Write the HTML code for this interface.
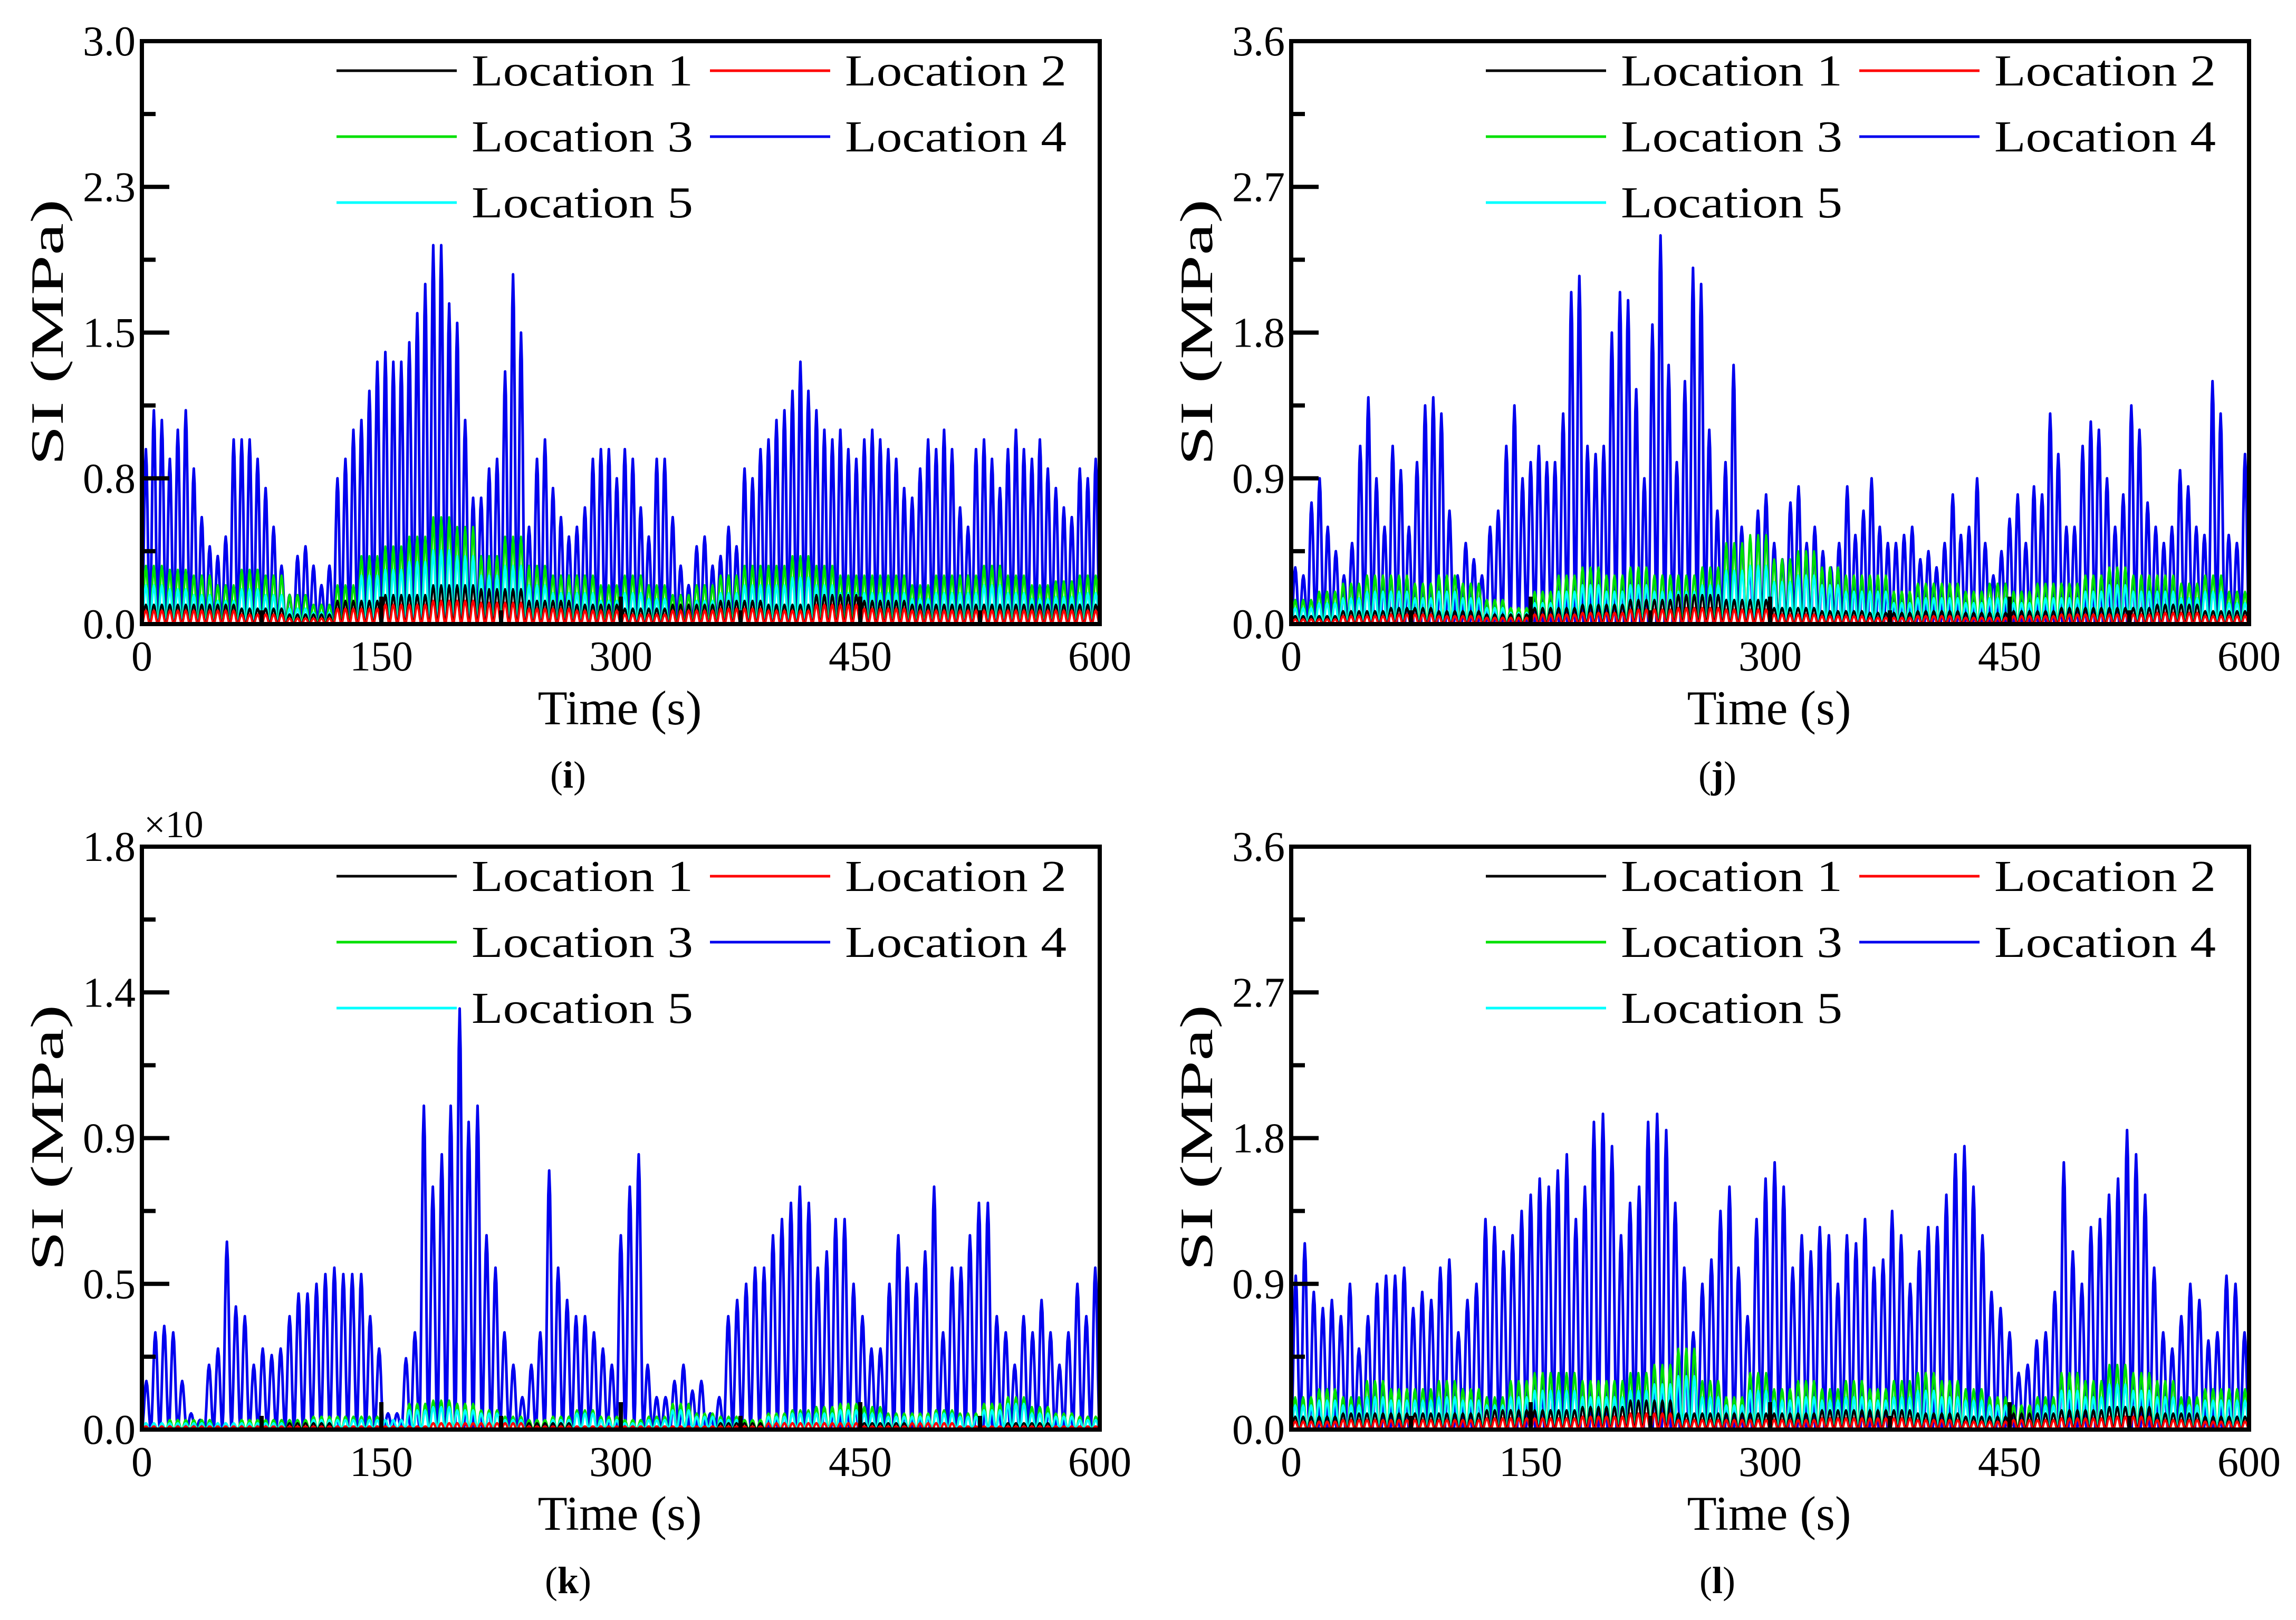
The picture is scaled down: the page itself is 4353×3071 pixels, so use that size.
<!DOCTYPE html>
<html><head><meta charset="utf-8"><style>
html,body{margin:0;padding:0;background:#fff;}
svg{display:block;font-family:"Liberation Serif",serif;}
</style></head><body>
<svg id="fig" width="4353" height="3071" viewBox="0 0 4353 3071" xmlns="http://www.w3.org/2000/svg"></svg>
<script>
// ---- data ----
const xTicks = [0,150,300,450,600];
const yTicksI = ["0.0","0.8","1.5","2.3","3.0"];
const yTicksJ = ["0.0","0.9","1.8","2.7","3.6"];
const yTicksK = ["0.0","0.5","0.9","1.4","1.8"];
const yTicksL = ["0.0","0.9","1.8","2.7","3.6"];
const yMaxI = 3.0, yMaxJ = 3.6, yMaxK = 1.8, yMaxL = 3.6;
const seriesNames = ["Location 1","Location 2","Location 3","Location 4","Location 5"];

const i_L4 = [0.9,1.1,1.05,0.85,1.0,1.1,0.8,0.55,0.4,0.35,0.45,0.95,0.95,0.95,0.85,0.7,0.5,0.3,0.15,0.35,0.4,0.3,0.2,0.3,0.75,0.85,1.0,1.05,1.2,1.35,1.4,1.35,1.35,1.45,1.6,1.75,1.95,1.95,1.65,1.55,1.05,0.65,0.65,0.8,0.85,1.3,1.8,1.5,0.5,0.85,0.95,0.7,0.55,0.45,0.5,0.6,0.85,0.9,0.9,0.75,0.9,0.85,0.6,0.45,0.85,0.85,0.55,0.3,0.2,0.4,0.45,0.3,0.35,0.5,0.4,0.8,0.75,0.9,0.95,1.05,1.1,1.2,1.35,1.2,1.1,1.0,0.95,1.0,0.9,0.85,0.95,1.0,0.95,0.9,0.85,0.7,0.65,0.8,0.95,0.9,1.0,0.9,0.6,0.5,0.9,0.95,0.85,0.7,0.9,1.0,0.9,0.85,0.95,0.8,0.7,0.6,0.55,0.8,0.75,0.85];
const i_L3 = [0.3,0.28,0.25,0.2,0.28,0.25,0.15,0.1,0.2,0.35,0.4,0.45,0.55,0.5,0.35,0.45,0.3,0.25,0.25,0.2,0.25,0.2,0.15,0.2,0.25,0.3,0.3,0.35,0.3,0.25,0.25,0.25,0.2,0.25,0.25,0.3,0.25,0.2,0.22,0.25];
const i_L5 = [0.2,0.18,0.15,0.12,0.18,0.15,0.08,0.06,0.12,0.25,0.28,0.32,0.38,0.35,0.25,0.3,0.2,0.16,0.16,0.12,0.16,0.13,0.1,0.12,0.16,0.2,0.2,0.24,0.2,0.16,0.16,0.16,0.13,0.16,0.16,0.2,0.16,0.13,0.14,0.16];
const i_L1 = [0.1,0.1,0.08,0.05,0.12,0.15,0.2,0.18,0.12,0.1,0.08,0.1,0.12,0.1,0.15,0.12,0.1,0.1,0.1,0.1];
const i_L2 = [0.07,0.07,0.05,0.03,0.08,0.1,0.12,0.11,0.08,0.07,0.05,0.07,0.08,0.07,0.1,0.08,0.07,0.07,0.07,0.07];

const j_L4 = [0.35,0.3,0.75,0.9,0.6,0.45,0.3,0.5,1.1,1.4,0.9,0.6,1.1,0.95,0.6,1.0,1.35,1.4,1.3,0.7,0.3,0.5,0.4,0.3,0.6,0.7,1.1,1.35,0.9,1.0,1.1,1.0,1.0,1.3,2.05,2.15,1.1,1.05,1.1,1.8,2.05,2.0,1.45,0.9,1.85,2.4,1.6,1.0,1.5,2.2,2.1,1.2,0.7,1.0,1.6,0.6,0.35,0.7,0.8,0.5,0.4,0.75,0.85,0.5,0.6,0.45,0.35,0.5,0.85,0.55,0.7,0.9,0.6,0.5,0.5,0.55,0.6,0.4,0.45,0.35,0.5,0.8,0.55,0.6,0.9,0.5,0.3,0.45,0.65,0.8,0.5,0.85,0.8,1.3,1.05,0.6,0.6,1.1,1.25,1.2,0.9,0.6,0.8,1.35,1.2,0.75,0.6,0.5,0.6,0.95,0.85,0.6,0.55,1.5,1.3,0.55,0.5,1.05];
const j_L3 = [0.15,0.2,0.25,0.3,0.3,0.25,0.3,0.25,0.15,0.1,0.2,0.3,0.35,0.3,0.35,0.3,0.3,0.35,0.5,0.55,0.4,0.45,0.35,0.3,0.3,0.2,0.25,0.25,0.2,0.25,0.2,0.25,0.25,0.3,0.35,0.3,0.3,0.25,0.3,0.2];
const j_L5 = [0.1,0.13,0.16,0.2,0.2,0.16,0.2,0.16,0.1,0.07,0.13,0.2,0.24,0.2,0.24,0.2,0.2,0.24,0.33,0.36,0.26,0.3,0.24,0.2,0.2,0.13,0.16,0.16,0.13,0.16,0.13,0.16,0.16,0.2,0.24,0.2,0.2,0.16,0.2,0.13];
const j_L1 = [0.05,0.08,0.1,0.08,0.06,0.1,0.12,0.15,0.18,0.15,0.1,0.08,0.07,0.08,0.07,0.08,0.1,0.1,0.12,0.08];
const j_L2 = [0.03,0.05,0.06,0.05,0.04,0.06,0.07,0.09,0.1,0.09,0.06,0.05,0.04,0.05,0.04,0.05,0.06,0.06,0.07,0.05];

const k_L4 = [0.15,0.3,0.32,0.3,0.15,0.05,0.03,0.2,0.25,0.58,0.38,0.35,0.2,0.25,0.23,0.25,0.35,0.42,0.42,0.45,0.48,0.5,0.48,0.48,0.48,0.35,0.25,0.05,0.05,0.22,0.3,1.0,0.75,0.85,1.0,1.3,0.95,1.0,0.6,0.5,0.3,0.2,0.1,0.2,0.3,0.8,0.5,0.4,0.35,0.35,0.3,0.25,0.2,0.6,0.75,0.85,0.2,0.1,0.1,0.15,0.2,0.12,0.15,0.05,0.1,0.35,0.4,0.45,0.5,0.5,0.6,0.65,0.7,0.75,0.7,0.5,0.55,0.65,0.65,0.45,0.35,0.25,0.25,0.45,0.6,0.5,0.45,0.55,0.75,0.3,0.5,0.5,0.6,0.7,0.7,0.35,0.3,0.2,0.35,0.3,0.4,0.3,0.2,0.3,0.45,0.35,0.5];
const k_L3 = [0.02,0.03,0.03,0.02,0.03,0.03,0.03,0.04,0.04,0.04,0.03,0.08,0.09,0.08,0.06,0.04,0.03,0.04,0.06,0.04,0.03,0.04,0.08,0.05,0.04,0.03,0.05,0.06,0.07,0.08,0.07,0.05,0.05,0.06,0.05,0.08,0.1,0.07,0.05,0.04];
const k_L5 = [0.02,0.02,0.02,0.02,0.02,0.02,0.02,0.03,0.03,0.03,0.03,0.06,0.07,0.06,0.05,0.03,0.02,0.03,0.05,0.03,0.02,0.03,0.06,0.04,0.03,0.02,0.04,0.05,0.05,0.06,0.05,0.04,0.04,0.05,0.04,0.06,0.08,0.05,0.04,0.03];
const k_L1 = [0.01,0.01,0.01,0.02,0.01,0.01,0.02,0.02,0.02,0.01,0.01,0.01,0.02,0.02,0.02,0.02,0.02,0.01,0.02,0.01];
const k_L2 = [0.01,0.01,0.01,0.01,0.01,0.01,0.02,0.02,0.01,0.01,0.01,0.01,0.01,0.02,0.02,0.01,0.02,0.01,0.01,0.01];

const l_L4 = [0.95,1.15,0.85,0.75,0.8,0.7,0.9,0.5,0.7,0.9,0.95,0.95,1.0,0.75,0.85,0.8,1.0,1.05,0.6,0.8,0.9,1.3,1.25,1.1,1.2,1.35,1.45,1.55,1.5,1.6,1.7,1.3,1.5,1.9,1.95,1.75,1.2,1.4,1.5,1.9,1.95,1.85,1.4,1.0,0.6,0.9,1.05,1.35,1.5,1.0,0.7,1.3,1.55,1.65,1.5,1.0,1.2,1.1,1.25,1.2,0.9,1.2,1.15,1.3,1.0,1.05,1.35,1.2,0.9,1.1,1.25,1.25,1.45,1.7,1.75,1.5,1.2,0.85,0.75,0.6,0.35,0.4,0.55,0.6,0.85,1.65,1.1,0.9,1.25,1.3,1.45,1.55,1.85,1.7,1.45,1.0,0.6,0.5,0.7,0.9,0.8,0.55,0.6,0.95,0.9,0.6];
const l_L3 = [0.2,0.25,0.2,0.3,0.25,0.25,0.3,0.25,0.2,0.3,0.35,0.35,0.3,0.3,0.35,0.4,0.5,0.3,0.2,0.35,0.25,0.3,0.25,0.3,0.25,0.3,0.35,0.3,0.25,0.2,0.15,0.2,0.35,0.3,0.4,0.35,0.3,0.2,0.25,0.25];
const l_L5 = [0.15,0.18,0.15,0.2,0.18,0.18,0.2,0.18,0.15,0.2,0.24,0.24,0.2,0.2,0.24,0.28,0.33,0.2,0.15,0.24,0.18,0.2,0.18,0.2,0.18,0.2,0.24,0.2,0.18,0.15,0.1,0.15,0.24,0.2,0.28,0.24,0.2,0.15,0.18,0.18];
const l_L1 = [0.08,0.1,0.1,0.1,0.12,0.12,0.14,0.18,0.1,0.1,0.1,0.12,0.12,0.1,0.08,0.1,0.12,0.14,0.1,0.08];
const l_L2 = [0.05,0.06,0.06,0.06,0.07,0.07,0.08,0.1,0.06,0.06,0.06,0.07,0.07,0.06,0.05,0.06,0.07,0.08,0.06,0.05];

// ---- rendering ----
const NS = "http://www.w3.org/2000/svg";
const svg = document.getElementById("fig");
function mk(tag, attrs, parent){
  const e = document.createElementNS(NS, tag);
  for (const k in attrs) e.setAttribute(k, attrs[k]);
  (parent||svg).appendChild(e);
  return e;
}
const colors = ["#000000","#ff0000","#00e000","#0000ee","#00ffff"];
const cyclesPerValue = [6,6,3,1,3];
const PW = 1816, PH = 1105;

function drawPanel(ox, oy, yMax, yLabels, series, letter, panelName, sci){
  const g = mk("g", {});
  
  
  const xs = t => ox + t/600*PW;
  const ys = v => oy + PH - v/yMax*PH;
  const cp = mk("clipPath", {id:"clip-"+letter}, g);
  mk("rect", {x:ox, y:oy, width:PW, height:PH}, cp);
  const plot = mk("g", {"clip-path":"url(#clip-"+letter+")"}, g);
  
  
  const order = [3,2,4,0,1];
  order.forEach(si=>{
    const arr = series[si];
    const cpv = cyclesPerValue[si];
    const n = arr.length, w = 600/n/cpv;
    let d = "M"+xs(0).toFixed(1)+","+ys(0).toFixed(1);
    for (let i=0;i<n;i++){
      for (let c=0;c<cpv;c++){
        const base = (i*cpv+c)*w;
        for (let s=1;s<=10;s++){
          const f = s/10;
          const sh = Math.pow(Math.sin(Math.PI*f),2);
          d += " L"+xs(base+f*w).toFixed(1)+","+ys(arr[i]*sh).toFixed(1);
        }
      }
    }
    const p = mk("path", {d:d, fill:"none", stroke:colors[si], "stroke-width": si===3?5:4, "stroke-linejoin":"round"}, plot);
    
    
  });
  const fr = mk("rect", {x:ox, y:oy, width:PW, height:PH, fill:"none", stroke:"#000", "stroke-width":8}, g);
  
  
  for (let k=0;k<=8;k++){
    const y = oy + PH - k/8*PH;
    const len = k%2===0?52:26;
    const t = mk("line", {x1:ox, x2:ox+len, y1:y, y2:y, stroke:"#000", "stroke-width":8}, g);
    
    
  }
  yLabels.forEach((lab,k)=>{
    const y = oy + PH - k/4*PH;
    const t = mk("text", {x:ox-12, y:y+27, "font-size":80, "text-anchor":"end"}, g);
    t.textContent = lab;
    
    
  });
  for (let k=0;k<=8;k++){
    const x = ox + k/8*PW;
    const len = k%2===0?52:26;
    const t = mk("line", {x1:x, x2:x, y1:oy+PH, y2:oy+PH-len, stroke:"#000", "stroke-width":8}, g);
    
    
  }
  xTicks.forEach(v=>{
    const t = mk("text", {x:xs(v), y:oy+PH+88, "font-size":80, "text-anchor":"middle"}, g);
    t.textContent = v;
    
    
  });
  const xt = mk("text", {x:ox+906, y:oy+PH+190, "font-size":92, "text-anchor":"middle"}, g);
  xt.textContent = "Time (s)";
  
  
  const ytx = ox-180, yty = oy+552;
  const yt = mk("text", {x:ytx, y:yty, "font-size":88, "text-anchor":"middle", transform:"rotate(-90 "+ytx+" "+yty+")", textLength:505, lengthAdjust:"spacingAndGlyphs", dy:30}, g);
  yt.textContent = "SI (MPa)";
  
  
  if (sci){
    const s = mk("text", {x:ox+4, y:oy-18, "font-size":72}, g);
    s.textContent = "×10";
    
    
  }
  const cap = mk("text", {x:ox+808, y:oy+PH+310, "font-size":72, "text-anchor":"middle"}, g);
  cap.innerHTML = '(<tspan font-weight="bold">'+letter+'</tspan>)';
  
  
  const legPos = [[0,0],[1,0],[0,1],[1,1],[0,2]];
  seriesNames.forEach((nm,si)=>{
    const lx = ox + 369 + legPos[si][0]*708;
    const ly = oy + 56 + legPos[si][1]*125;
    const le = mk("g", {}, g);
    
    
    mk("line", {x1:lx, x2:lx+228, y1:ly, y2:ly, stroke:colors[si], "stroke-width":5}, le);
    const t = mk("text", {x:lx+256, y:ly+28, "font-size":84, textLength:420, lengthAdjust:"spacingAndGlyphs"}, le);
    t.textContent = nm;
  });
}

drawPanel(269, 78, yMaxI, yTicksI, [i_L1,i_L2,i_L3,i_L4,i_L5], "i", "panel-i", false);
drawPanel(2448, 78, yMaxJ, yTicksJ, [j_L1,j_L2,j_L3,j_L4,j_L5], "j", "panel-j", false);
drawPanel(269, 1605, yMaxK, yTicksK, [k_L1,k_L2,k_L3,k_L4,k_L5], "k", "panel-k", true);
drawPanel(2448, 1605, yMaxL, yTicksL, [l_L1,l_L2,l_L3,l_L4,l_L5], "l", "panel-l", false);
</script>
</body></html>
